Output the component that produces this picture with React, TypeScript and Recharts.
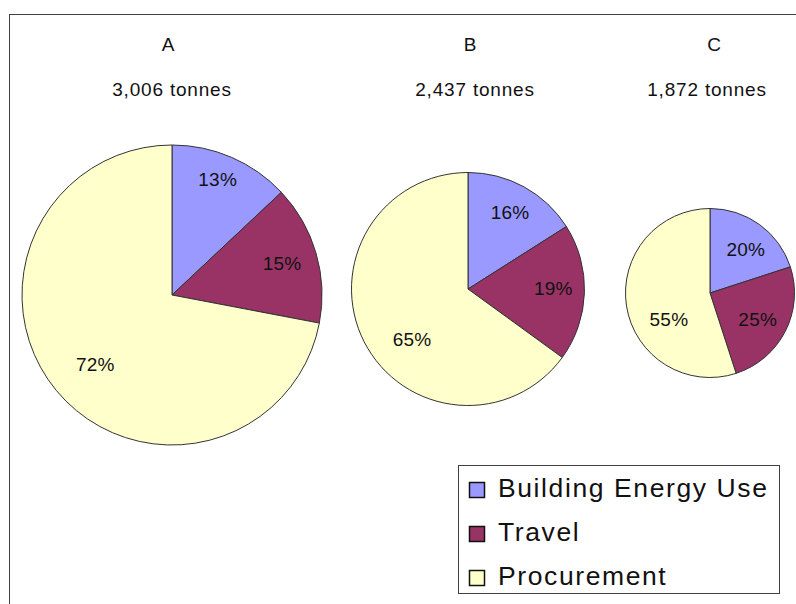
import React from 'react';
import { PieChart, Pie, Cell, Legend } from 'recharts';

// Emissions split per site, in percent of the site total
const sites = ['A', 'B', 'C'];
const siteTotals = [3006, 2437, 1872];
const categories = ['Building Energy Use', 'Travel', 'Procurement'];
const buildingEnergyShare = [13, 16, 20];
const travelShare = [15, 19, 25];
const procurementShare = [72, 65, 55];

const COLORS = ['#9999FF', '#993366', '#FFFFCC'];
const FONT = '"Liberation Sans", Arial, sans-serif';
const RADIAN = Math.PI / 180;

// Where each pie sits, plus the title anchors above it
const pieLayout = [
  { cx: 172, cy: 295, r: 150, labelRatio: 0.75, titleX: 168, totalX: 172 },
  { cx: 468, cy: 289, r: 116.5, labelRatio: 0.75, titleX: 470, totalX: 475 },
  { cx: 710, cy: 293, r: 84.5, labelRatio: 0.66, titleX: 714, totalX: 707 },
];

// Small nudges so the in-slice labels sit where they read best
const labelNudge = [
  [[1, -12], [2, 0], [10, -2]],
  [[0, 0], [-2, -3], [22, 11]],
  [[3, 2], [-2, 1], [14, 18]],
];

const pieData = sites.map((site, i) => [
  { name: categories[0], value: buildingEnergyShare[i] },
  { name: categories[1], value: travelShare[i] },
  { name: categories[2], value: procurementShare[i] },
]);

const formatTonnes = (n: number) => `${n.toLocaleString('en-US')} tonnes`;

const makeLabel = (pieIndex: number) => (props: any) => {
  const { cx, cy, midAngle, outerRadius, index, value } = props;
  const r = outerRadius * pieLayout[pieIndex].labelRatio;
  const [dx, dy] = labelNudge[pieIndex][index] || [0, 0];
  const x = cx + r * Math.cos(-midAngle * RADIAN) + dx;
  const y = cy + r * Math.sin(-midAngle * RADIAN) + dy;
  return (
    <text
      x={x}
      y={y}
      textAnchor="middle"
      dominantBaseline="central"
      fill="#111"
      style={{ fontFamily: FONT, fontSize: 19, letterSpacing: 0.2 }}
    >
      {`${value}%`}
    </text>
  );
};

const LegendBox = () => (
  <svg width={323} height={130} style={{ display: 'block' }}>
    <rect x={0.5} y={0.5} width={321} height={128} fill="#fff" stroke="#404040" strokeWidth={1} />
    {categories.map((name, i) => (
      <g key={name}>
        <rect x={11.5} y={17.5 + i * 44} width={15} height={15} fill={COLORS[i]} stroke="#111" strokeWidth={1.5} />
        <text
          x={40}
          y={32 + i * 44}
          fill="#111"
          style={{ fontFamily: FONT, fontSize: 26.5, letterSpacing: 1.6 }}
        >
          {name}
        </text>
      </g>
    ))}
  </svg>
);

export default function App() {
  return (
    <div style={{ position: 'absolute', left: 0, top: 0, width: 796, height: 604, background: '#fff', overflow: 'hidden' }}>
      <div
        style={{
          position: 'absolute',
          left: 9,
          top: 14,
          width: 900,
          height: 700,
          borderLeft: '1.5px solid #404040',
          borderTop: '1.5px solid #404040',
        }}
      />
      <PieChart
        width={796}
        height={604}
        margin={{ top: 0, right: 0, bottom: 0, left: 0 }}
        style={{ position: 'absolute', left: 0, top: 0 }}
      >
        {pieData.map((data, i) => (
          <Pie
            key={sites[i]}
            data={data}
            dataKey="value"
            nameKey="name"
            cx={pieLayout[i].cx}
            cy={pieLayout[i].cy}
            outerRadius={pieLayout[i].r}
            innerRadius={0}
            startAngle={90}
            endAngle={-270}
            stroke="#333"
            strokeWidth={1}
            labelLine={false}
            label={makeLabel(i)}
            isAnimationActive={false}
          >
            {data.map((d, j) => (
              <Cell key={d.name} fill={COLORS[j]} />
            ))}
          </Pie>
        ))}
        <g>
          {sites.map((site, i) => (
            <g key={site} style={{ fontFamily: FONT }} fill="#111">
              <text x={pieLayout[i].titleX} y={51} textAnchor="middle" style={{ fontSize: 19 }}>
                {site}
              </text>
              <text x={pieLayout[i].totalX} y={96} textAnchor="middle" style={{ fontSize: 19, letterSpacing: 0.8 }}>
                {formatTonnes(siteTotals[i])}
              </text>
            </g>
          ))}
        </g>
        <Legend
          content={<LegendBox />}
          wrapperStyle={{ position: 'absolute', left: 458, top: 465, width: 323, height: 130, bottom: 'auto' }}
        />
      </PieChart>
    </div>
  );
}
